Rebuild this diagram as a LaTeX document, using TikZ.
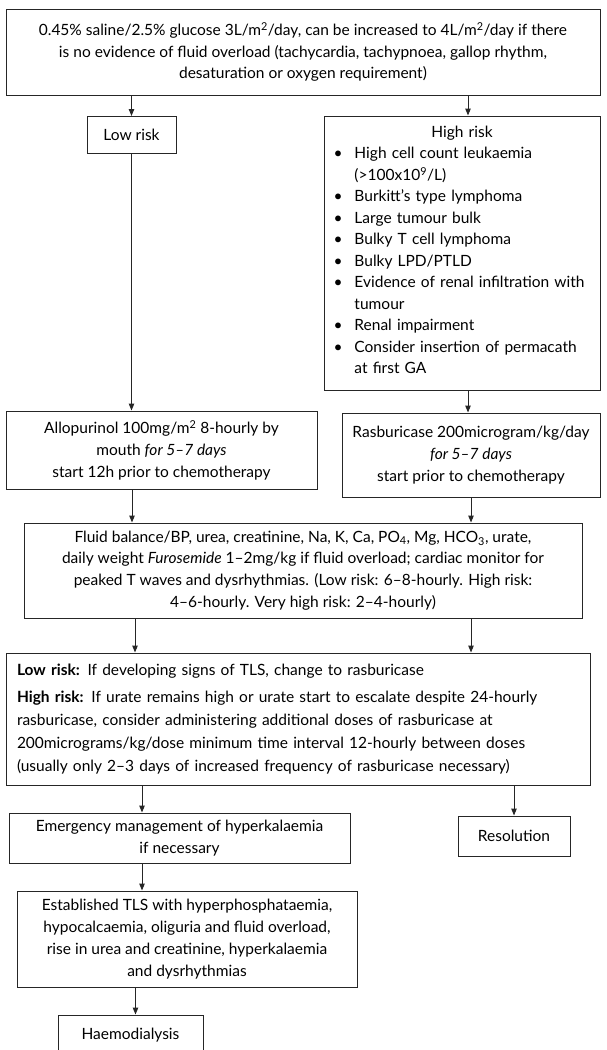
\documentclass[tikz,border=0pt]{standalone}
\usepackage{fontspec}
\setmainfont{Lato}
\usetikzlibrary{arrows.meta}

\begin{document}
\begin{tikzpicture}[x=1pt,y=-1pt,
    box/.style={draw=black!85, line width=1pt, align=center, inner sep=0pt,
        font=\fontsize{15.5}{21.8}\selectfont},
    arr/.style={draw=black!85, line width=1pt, -{Triangle[length=7pt,width=5.5pt]}}]
        % frame
            \useasboundingbox (0,0) rectangle (606,1050);
            \coordinate (lcol) at (132,0);
            \coordinate (rcol) at (468,0);
            \coordinate (ecol) at (142,0);
        % boxes
            \node[box, minimum width=594pt, minimum height=86pt] (saline) at (303,52)
                {0.45\% saline/2.5\% glucose 3L/m\textsuperscript{2}/day, can be increased to 4L/m\textsuperscript{2}/day if there\\
                 is no evidence of fluid overload (tachycardia, tachypnoea, gallop rhythm,\\
                 desaturation or oxygen requirement)};
            \node[box, minimum width=89pt, minimum height=37pt] (lowrisk) at (131.5,135) {Low risk};
            \node[box, minimum width=276pt, minimum height=274pt, align=left, text width=257pt,
                  font=\fontsize{15.5}{21.5}\selectfont] (highrisk) at (462,253)
                {\makebox[\linewidth]{High risk}\\
                 \begin{tabular}[t]{@{}l@{\hspace{12pt}}l@{}}
                 \textbullet & High cell count leukaemia\\
                  & (>100x10\textsuperscript{9}/L)\\
                 \textbullet & Burkitt’s type lymphoma\\
                 \textbullet & Large tumour bulk\\
                 \textbullet & Bulky T cell lymphoma\\
                 \textbullet & Bulky LPD/PTLD\\
                 \textbullet & Evidence of renal infiltration with\\
                  & tumour\\
                 \textbullet & Renal impairment\\
                 \textbullet & Consider insertion of permacath\\
                  & at first GA
                 \end{tabular}};
            \node[box, minimum width=311pt, minimum height=78pt] (allopurinol) at (161.5,450)
                {Allopurinol 100mg/m\textsuperscript{2} 8-hourly by\\
                 mouth \textit{for 5--7 days}\\
                 start 12h prior to chemotherapy};
            \node[box, minimum width=258pt, minimum height=84pt] (rasburicase) at (471,455)
                {Rasburicase 200microgram/kg/day\\
                 \textit{for 5--7 days}\\
                 start prior to chemotherapy};
            \node[box, minimum width=558pt, minimum height=95pt] (monitor) at (303,570.5)
                {Fluid balance/BP, urea, creatinine, Na, K, Ca, PO\textsubscript{4}, Mg, HCO\textsubscript{3}, urate,\\
                 daily weight \textit{Furosemide} 1--2mg/kg if fluid overload; cardiac monitor for\\
                 peaked T waves and dysrhythmias. (Low risk: 6--8-hourly. High risk:\\
                 4--6-hourly. Very high risk: 2--4-hourly)};
            \node[box, minimum width=584pt, minimum height=132pt, align=left, text width=562pt,
                  font=\fontsize{15.5}{22.8}\selectfont] (escalate) at (298,719)
                {\textbf{Low risk:} If developing signs of TLS, change to rasburicase\\[4pt]
                 \textbf{High risk:} If urate remains high or urate start to escalate despite 24-hourly\\
                 rasburicase, consider administering additional doses of rasburicase at\\
                 200micrograms/kg/dose minimum time interval 12-hourly between doses\\
                 (usually only 2--3 days of increased frequency of rasburicase necessary)};
            \node[box, minimum width=341pt, minimum height=50pt] (emergency) at (179.5,838)
                {Emergency management of hyperkalaemia\\
                 if necessary};
            \node[box, minimum width=112pt, minimum height=40pt] (resolution) at (514,836) {Resolution};
            \node[box, minimum width=340pt, minimum height=96pt] (established) at (187,939)
                {Established TLS with hyperphosphataemia,\\
                 hypocalcaemia, oliguria and fluid overload,\\
                 rise in urea and creatinine, hyperkalaemia\\
                 and dysrhythmias};
            \node[box, minimum width=145pt, minimum height=40pt] (dialysis) at (130.5,1035) {Haemodialysis};
        % arrows
            \draw[arr] (lowrisk.north |- saline.south) -- (lowrisk.north);
            \draw[arr] (saline.south -| rcol) -- (highrisk.north -| rcol);
            \draw[arr] (lowrisk.south) -- (allopurinol.north -| lowrisk);
            \draw[arr] (highrisk.south -| rcol) -- (rasburicase.north -| rcol);
            \draw[arr] (allopurinol.south -| lcol) -- (monitor.north -| lcol);
            \draw[arr] (rasburicase.south) -- (monitor.north -| rasburicase);
            \draw[arr] ([xshift=3pt]monitor.south -| lcol) -- ([xshift=3pt]escalate.north -| lcol);
            \draw[arr] (monitor.south -| rasburicase) -- (escalate.north -| rasburicase);
            \draw[arr] (escalate.south -| ecol) -- (emergency.north -| ecol);
            \draw[arr] (escalate.south -| resolution) -- (resolution.north);
            \draw[arr] (emergency.south -| ecol) -- (established.north -| ecol);
            \draw[arr] ([xshift=5pt]established.south -| dialysis) -- ([xshift=5pt]dialysis.north);
\end{tikzpicture}
\end{document}
